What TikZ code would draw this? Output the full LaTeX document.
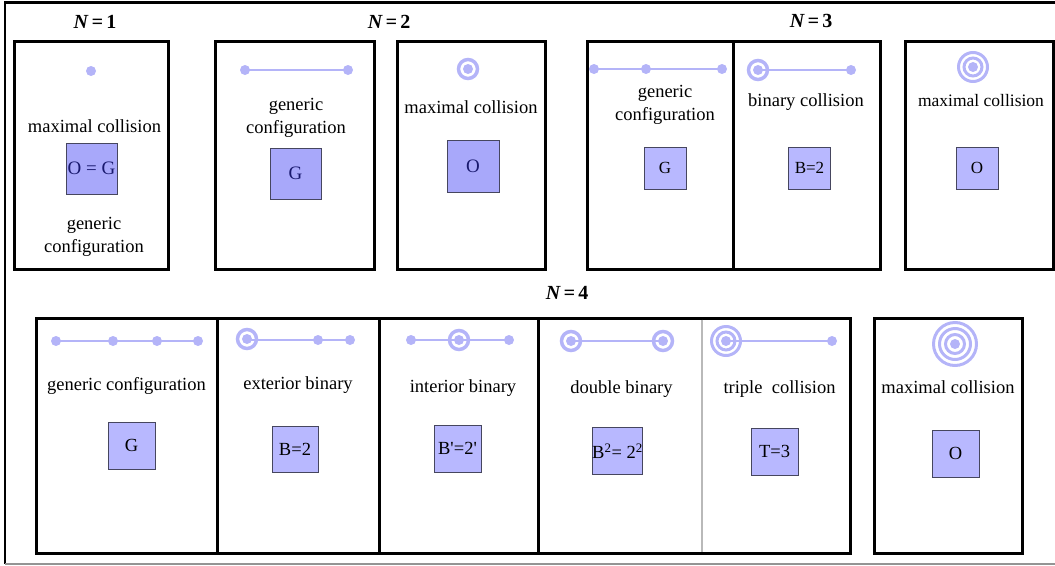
\documentclass[tikz,border=0pt]{standalone}
\usepackage{fontspec}
\setmainfont{Liberation Serif}
\definecolor{dotc}{RGB}{180,180,248}
\definecolor{sqA}{RGB}{168,168,250}
\definecolor{sqB}{RGB}{184,184,255}
\definecolor{sqline}{RGB}{70,70,95}
\definecolor{navy}{RGB}{25,25,110}
\definecolor{divgray}{RGB}{185,185,185}
\tikzset{
  panel/.style={draw=black, line width=3pt},
  lbl/.style={anchor=base, inner sep=0pt, font=\fontsize{18.5}{22}\selectfont},
  lblsm/.style={anchor=base, inner sep=0pt, font=\fontsize{17.5}{21}\selectfont},
  title/.style={anchor=base, inner sep=0pt, font=\fontsize{20}{23}\selectfont\bfseries},
  sqa/.style={draw=sqline, line width=1pt, fill=sqA, text=navy, inner sep=0pt, font=\fontsize{19}{22}\selectfont},
  sqb/.style={draw=sqline, line width=1pt, fill=sqB, text=black, inner sep=0pt, font=\fontsize{17}{20}\selectfont},
  sqc/.style={sqb, font=\fontsize{18.5}{22}\selectfont},
  pt/.style={circle, fill=dotc, inner sep=0pt, minimum size=10pt},
  ring/.style={circle, draw=dotc, line width=3.5pt, inner sep=0pt, minimum size=#1},
  ringt/.style={circle, draw=dotc, line width=3pt, inner sep=0pt, minimum size=#1},
  bond/.style={draw=dotc, line width=2pt},
}
\begin{document}
\begin{tikzpicture}[x=1pt,y=-1pt]
\useasboundingbox (0,0) rectangle (1055,565);
% outer frame
\draw[line width=2.5pt] (1055,2.5) -- (5,2.5) -- (5,564);
\draw[line width=1.5pt, color=divgray!80!black] (5,564) -- (1055,564);

% titles
\node[title] (t1) at (95,28) {\itshape N\,=\,\upshape 1};
\node[title] (t2) at (389,28) {\itshape N\,=\,\upshape 2};
\node[title] (t3) at (811,27) {\itshape N\,=\,\upshape 3};
\node[title] (t4) at (567,299) {\itshape N\,=\,\upshape 4};

% top panels
\draw[panel] (14,41) rectangle (168,269);
\draw[panel] (215,41) rectangle (374,269);
\draw[panel] (397,41) rectangle (545,269);
\draw[panel] (587,41) rectangle (880,269);
\draw[panel] (733,41) -- (733,269);
\draw[panel] (905,41) rectangle (1053,269);

% bottom panels
\draw[panel] (36,318) rectangle (850,553);
\draw[panel] (217,318) -- (217,553);
\draw[panel] (379,318) -- (379,553);
\draw[panel] (538,318) -- (538,553);
\draw[draw=divgray, line width=1.2pt] (702,319.5) -- (702,551.5);
\draw[panel] (874,318) rectangle (1022,553);

% ---------- N=1
\node[pt] (a1) at (91,71) {};
\node[lbl] (a1l) at (94.5,132) {maximal collision};
\node[sqa, minimum size=51pt] (a1s) at (91.5,168.5) {O = G};
\node[lbl] (a1g) at (94,229) {generic};
\node[lbl] (a1c) at (94,252) {configuration};

% ---------- N=2 generic
\node[pt] (b1) at (245,70) {};
\node[pt] (b2) at (348,70) {};
\draw[bond] (b1.center) -- (b2.center);
\node[lbl] (b1g) at (296,110) {generic};
\node[lbl] (b1c) at (296,133) {configuration};
\node[sqa, minimum size=51pt] (b1s) at (295.5,173.5) {G};

% ---------- N=2 maximal
\node[ring=19pt] (c1r) at (468,69) {};
\node[pt] (c1) at (468,69) {};
\node[lbl] (c1l) at (471,113) {maximal collision};
\node[sqa, minimum size=52pt] (c1s) at (473,166.5) {O};

% ---------- N=3 generic
\node[pt] (d1) at (594,69) {};
\node[pt] (d2) at (646,69) {};
\node[pt] (d3) at (722,69) {};
\draw[bond] (d1.center) -- (d2.center) -- (d3.center);
\node[lbl] (d1g) at (665,97) {generic};
\node[lbl] (d1c) at (665,120) {configuration};
\node[sqb, minimum size=42pt] (d1s) at (665,168) {G};

% ---------- N=3 binary
\node[pt] (e2) at (851,70) {};
\draw[bond] (758,70) -- (e2.center);
\node[ring=19pt] (e1r) at (758,70) {};
\node[pt] (e1) at (758,70) {};
\node[lbl] (e1l) at (806,106) {binary collision};
\node[sqb, minimum size=42pt] (e1s) at (809.5,168) {B=2};

% ---------- N=3 maximal
\node[ringt=29pt] (f1o) at (973,67) {};
\node[ringt=18pt] (f1m) at (973,67) {};
\node[pt] (f1) at (973,67) {};
\node[lblsm] (f1l) at (981,106) {maximal collision};
\node[sqb, minimum size=42pt] (f1s) at (977,168) {O};

% ---------- N=4 generic
\node[pt] (g1) at (56,341) {};
\node[pt] (g2) at (113,341) {};
\node[pt] (g3) at (157,341) {};
\node[pt] (g4) at (198,341) {};
\draw[bond] (g1.center) -- (g2.center) -- (g3.center) -- (g4.center);
\node[lbl] (g1l) at (126.5,390) {generic configuration};
\node[sqc, minimum size=47pt] (g1s) at (131.5,445.5) {G};

% ---------- N=4 exterior binary
\node[pt] (h2) at (318,340) {};
\node[pt] (h3) at (350,340) {};
\draw[bond] (247,340) -- (h2.center) -- (h3.center);
\node[ring=19pt] (h1r) at (247,339) {};
\node[pt] (h1) at (247,339) {};
\node[lbl] (h1l) at (298,389) {exterior binary};
\node[sqc, minimum size=46pt] (h1s) at (295,449) {B=2};

% ---------- N=4 interior binary
\node[pt] (i1) at (411,340) {};
\node[pt] (i3) at (509,340) {};
\draw[bond] (i1.center) -- (i3.center);
\node[ring=19pt] (i2r) at (459,340) {};
\node[pt] (i2) at (459,340) {};
\node[lbl] (i1l) at (463,392) {interior binary};
\node[sqc, minimum size=47pt] (i1s) at (457.5,448.5) {B\textquotesingle=2\textquotesingle};

% ---------- N=4 double binary
\draw[bond] (571,341) -- (663,341);
\node[ring=19pt] (j1r) at (571,341) {};
\node[pt] (j1) at (571,341) {};
\node[ring=19pt] (j2r) at (663,341) {};
\node[pt] (j2) at (663,341) {};
\node[lbl] (j1l) at (621.5,393) {double binary};
\node[sqc, minimum size=47pt] (j1s) at (617.5,451) {B\textsuperscript{2}= 2\textsuperscript{2}};

% ---------- N=4 triple collision
\node[pt] (k2) at (832,341) {};
\node[ringt=29pt] (k1o) at (726,341) {};
\node[ringt=18pt] (k1m) at (726,341) {};
\node[pt] (k1) at (726,341) {};
\draw[bond] (k1.center) -- (k2.center);
\node[lbl] (k1l) at (779.5,393) {triple\ \ collision};
\node[sqc, minimum size=47pt] (k1s) at (774.5,451.5) {T=3};

% ---------- N=4 maximal
\node[ringt=43pt] (l1o) at (955,344) {};
\node[ringt=31pt] (l1m) at (955,344) {};
\node[ringt=19pt] (l1i) at (955,344) {};
\node[pt] (l1) at (955,344) {};
\node[lbl] (l1l) at (948,393) {maximal collision};
\node[sqc, minimum size=47pt] (l1s) at (955.5,453.5) {O};
\end{tikzpicture}
\end{document}
